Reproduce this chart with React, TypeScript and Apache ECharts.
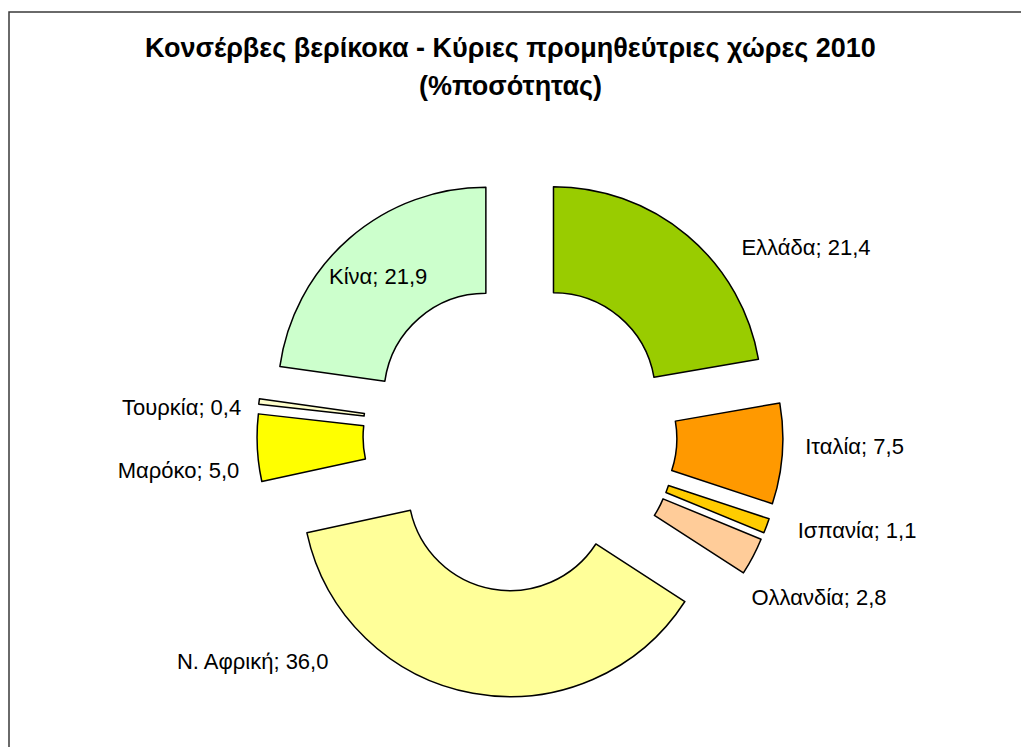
import React, { useEffect, useRef } from "react";
import * as echarts from "echarts";

// ---- data ----
const categories = ["Ελλάδα", "Ιταλία", "Ισπανία", "Ολλανδία", "Ν. Αφρική", "Μαρόκο", "Τουρκία", "Κίνα"];
const shares = [21.4, 7.5, 1.1, 2.8, 36.0, 5.0, 0.4, 21.9];
const titleLines = ["Κονσέρβες βερίκοκα - Κύριες προμηθεύτριες χώρες 2010", "(%ποσότητας)"];

// ---- styling / placement (kept apart from the data) ----
const sliceColors = ["#99CC00", "#FF9900", "#FFCC00", "#FFCC99", "#FFFF99", "#FFFF00", "#FFFFCC", "#CCFFCC"];
const explodeGroup = [0, 1, 1, 1, 1, 1, 1, 0];
const labelShiftX = [40, 4, 13, -19, -137, 1, 1, -4];
const labelShiftY = [23, -8, 0, 35, -46, 22, 8, 0];

const FONT = "'Liberation Sans', Arial, sans-serif";

const fmt = (p: any) => `${p.name}; ${Number(p.value).toFixed(1).replace(".", ",")}`;

function buildSeries(group: number, offset: number) {
  return {
    type: "pie",
    name: "g" + group,
    center: [520, 434.5],
    radius: [102, 208],
    startAngle: 90,
    clockwise: true,
    selectedMode: "multiple",
    selectedOffset: offset,
    avoidLabelOverlap: false,
    silent: true,
    emphasis: { disabled: true },
    label: {
      show: true,
      position: "outside",
      formatter: fmt,
      fontFamily: FONT,
      fontSize: 22,
      color: "#000",
    },
    labelLine: { show: false, length: 14, length2: 0 },
    labelLayout: (p: any) => ({
      dx: labelShiftX[p.dataIndex],
      dy: labelShiftY[p.dataIndex],
    }),
    data: categories.map((name, i) => {
      const on = explodeGroup[i] === group;
      return {
        name,
        value: shares[i],
        selected: on,
        itemStyle: on
          ? { color: sliceColors[i], borderColor: "#000", borderWidth: 1.5 }
          : { color: "rgba(0,0,0,0)", borderWidth: 0 },
        label: on
          ? name === "Κίνα"
            ? { show: true, position: "inside" }
            : { show: true }
          : { show: false },
        labelLine: { show: false },
      };
    }),
  };
}

export default function App() {
  const ref = useRef<HTMLDivElement>(null);
  useEffect(() => {
    if (!ref.current) return;
    const chart = echarts.init(ref.current, undefined, { renderer: "svg" });
    chart.setOption({
      animation: false,
      backgroundColor: "#ffffff",
      title: {
        text: titleLines.join("\n"),
        left: "center",
        top: 24,
        textStyle: {
          fontFamily: FONT,
          fontSize: 27,
          fontWeight: "bold",
          color: "#000",
          lineHeight: 38,
        },
      },
      graphic: [
        {
          type: "rect",
          shape: { x: 9, y: 12, width: 1040, height: 760 },
          style: { fill: "none", stroke: "#3a3a3a", lineWidth: 1.5 },
          silent: true,
        },
      ],
      series: [buildSeries(0, 52), buildSeries(1, 55)],
    });
    return () => chart.dispose();
  }, []);
  return (
    <div
      ref={ref}
      style={{ position: "absolute", left: 0, top: 0, width: 1021, height: 747 }}
    />
  );
}
